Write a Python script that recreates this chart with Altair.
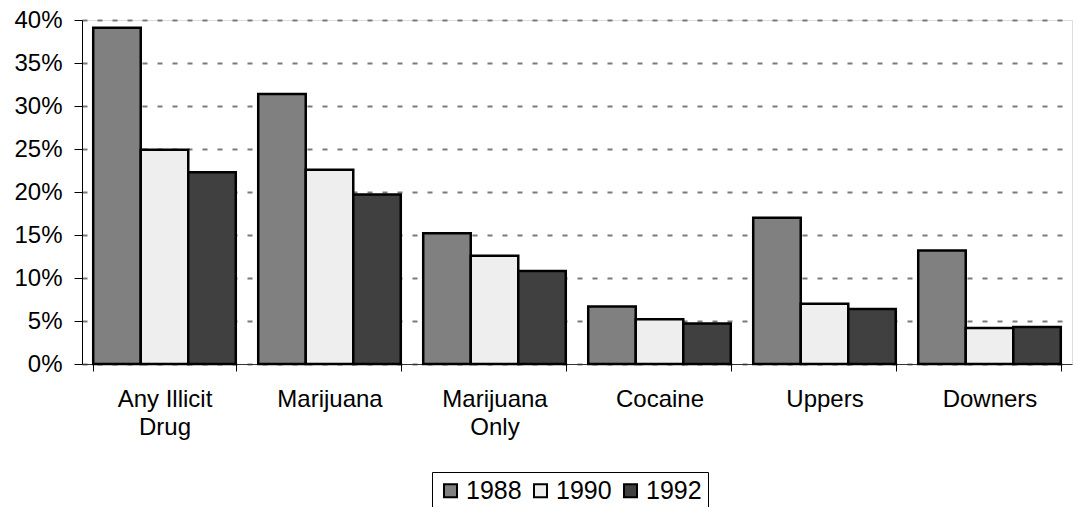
import altair as alt
import pandas as pd

# Share of respondents reporting use, by substance and survey year
categories = ["Any Illicit Drug", "Marijuana", "Marijuana Only", "Cocaine", "Uppers", "Downers"]
years = ["1988", "1990", "1992"]
pct_1988 = [39.1, 31.4, 15.2, 6.7, 17.0, 13.2]
pct_1990 = [24.9, 22.6, 12.6, 5.2, 7.0, 4.2]
pct_1992 = [22.3, 19.7, 10.8, 4.7, 6.4, 4.3]
year_colors = ["#808080", "#eeeeee", "#404040"]
y_ticks = [0, 0.05, 0.10, 0.15, 0.20, 0.25, 0.30, 0.35, 0.40]

rows = []
for year, series in zip(years, [pct_1988, pct_1990, pct_1992]):
    for cat, v in zip(categories, series):
        rows.append({"category": cat, "year": year, "share": v / 100})
df = pd.DataFrame(rows)

FONT = "Liberation Sans"

label_expr = (
    "datum.value == 'Any Illicit Drug' ? ['Any Illicit', 'Drug'] : "
    "datum.value == 'Marijuana Only' ? ['Marijuana', 'Only'] : datum.value"
)

bars = alt.Chart(df).mark_bar(stroke="black", strokeWidth=2.5).encode(
    x=alt.X(
        "category:N",
        sort=categories,
        scale=alt.Scale(paddingInner=0.136, paddingOuter=0.068),
        axis=alt.Axis(
            title=None,
            labelAngle=0,
            labelExpr=label_expr,
            labelFont=FONT,
            labelFontSize=24,
            labelColor="black",
            labelLineHeight=28,
            labelPadding=16,
            labelBaseline="top",
            tickBand="extent",
            tickSize=7,
            tickColor="black",
            domainColor="#333333",
            grid=False,
        ),
    ),
    xOffset=alt.XOffset("year:N", sort=years, scale=alt.Scale(paddingInner=0, paddingOuter=0)),
    y=alt.Y(
        "share:Q",
        scale=alt.Scale(domain=[0, 0.4], nice=False),
        axis=alt.Axis(
            title=None,
            values=y_ticks,
            format=".0%",
            labelFont=FONT,
            labelFontSize=24,
            labelColor="black",
            labelPadding=12,
            tickSize=8,
            tickColor="black",
            domainColor="black",
            grid=True,
            gridColor="#7a7a7a",
            gridDash=[5, 10],
            gridWidth=1.8,
        ),
    ),
    color=alt.Color(
        "year:N",
        sort=years,
        scale=alt.Scale(domain=years, range=year_colors),
        legend=alt.Legend(
            title=" ",
            titleOrient="bottom",
            titleFontSize=20,
            titlePadding=4,
            orient="none",
            legendX=350,
            legendY=452,
            direction="horizontal",
            symbolType="square",
            symbolSize=169,
            symbolStrokeColor="black",
            symbolStrokeWidth=2,
            symbolOpacity=1,
            labelFont=FONT,
            labelFontSize=25,
            labelColor="black",
            labelOffset=3,
            columnPadding=6,
            padding=6,
            strokeColor="black",
            fillColor="white",
        ),
    ),
)

chart = bars.properties(
    width=990,
    height=344,
    autosize=alt.AutoSizeParams(type="none"),
    padding={"left": 82, "top": 20, "right": 5, "bottom": 143},
).configure_view(stroke=None).configure(background="white")

chart.save("out.html", embed_options={"renderer": "svg", "actions": False})
